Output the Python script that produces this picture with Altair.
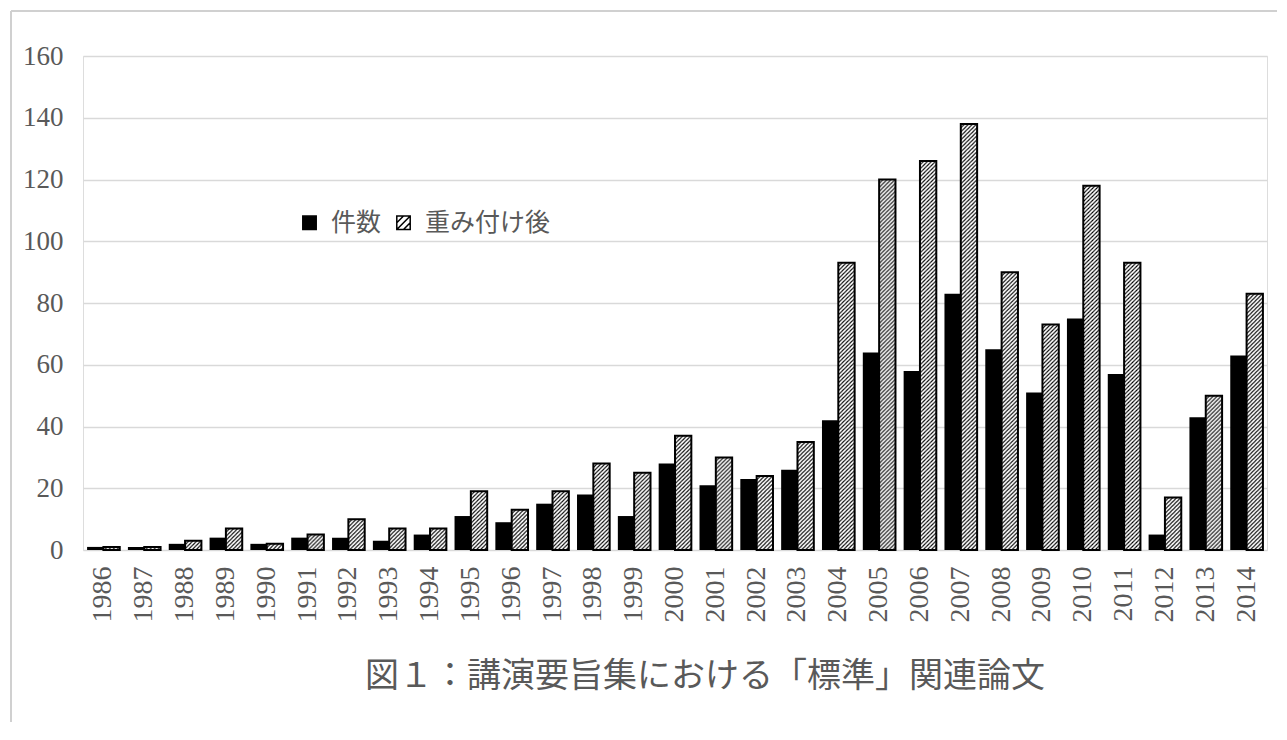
import urllib.parse
import altair as alt
import pandas as pd

# ---- data ----
years = [str(y) for y in range(1986, 2015)]
counts = [1, 1, 2, 4, 2, 4, 4, 3, 5, 11, 9, 15, 18, 11, 28, 21, 23, 26, 42,
          64, 58, 83, 65, 51, 75, 57, 5, 43, 63]
weighted = [1, 1, 3, 7, 2, 5, 10, 7, 7, 19, 13, 19, 28, 25, 37, 30, 24, 35, 93,
            120, 126, 138, 90, 73, 118, 93, 17, 50, 83]
series_names = ["件数", "重み付け後"]
y_ticks = [0, 20, 40, 60, 80, 100, 120, 140, 160]
title_text = "図１：講演要旨集における「標準」関連論文"

rows = []
for yr, c, w in zip(years, counts, weighted):
    rows.append({"year": yr, "series": series_names[0], "value": c})
    rows.append({"year": yr, "series": series_names[1], "value": w})
df = pd.DataFrame(rows)

W, H = 1184, 494
GRAY = "#595959"
SERIF = "Liberation Serif"
JP = "Noto Sans CJK JP"

# diagonal hatch pattern as an SVG image that tiles at fixed pixel size
hatch_svg = (
    "<svg xmlns='http://www.w3.org/2000/svg' width='100%' height='100%'>"
    "<defs><pattern id='p' patternUnits='userSpaceOnUse' width='4' height='4'>"
    "<rect width='4' height='4' fill='white'/>"
    "<path d='M-1,1 L1,-1 M0,4 L4,0 M3,5 L5,3' stroke='black' stroke-width='1.1'/>"
    "</pattern></defs>"
    "<rect width='100%' height='100%' fill='url(#p)'/></svg>"
)
hatch_uri = "data:image/svg+xml;charset=utf-8," + urllib.parse.quote(hatch_svg)

base = alt.Chart(df)

x_enc = alt.X(
    "year:O",
    sort=years,
    title=None,
    scale=alt.Scale(paddingInner=0.2, paddingOuter=0.1),
    axis=alt.Axis(labelAngle=-90, labelFont=SERIF, labelFontSize=28,
                  labelColor=GRAY, labelPadding=16, ticks=False, domain=False,
                  grid=False),
)
xoff = alt.XOffset("series:N", scale=alt.Scale(domain=series_names, paddingInner=0))
y_enc = alt.Y(
    "value:Q",
    title=None,
    scale=alt.Scale(domain=[0, 160], nice=False),
    axis=alt.Axis(values=y_ticks, labelFont=SERIF, labelFontSize=27,
                  labelColor=GRAY, labelPadding=20, ticks=False, domain=False,
                  grid=True, gridColor="#d9d9d9", gridWidth=1.5),
)

black_bars = base.transform_filter(
    alt.datum.series == series_names[0]
).mark_bar(color="black").encode(x=x_enc, xOffset=xoff, y=y_enc)

hatch_img = base.transform_filter(
    alt.datum.series == series_names[1]
).mark_image(url=hatch_uri, aspect=False).encode(
    x=x_enc, xOffset=xoff, y=y_enc, y2=alt.datum(0)
)

hatch_outline = base.transform_filter(
    alt.datum.series == series_names[1]
).mark_bar(fillOpacity=0, stroke="black", strokeWidth=2).encode(
    x=x_enc, xOffset=xoff, y=y_enc
)

hatch_symbol = "M-1,-1H1V1H-1Z M-1,0L0,-1 M-1,1L1,-1 M0,1L1,0"
leg = dict(title=None, orient="none", direction="horizontal",
           legendX=214, legendY=154,
           labelFont=JP, labelFontSize=25, labelColor=GRAY,
           symbolSize=180, symbolOpacity=1, symbolStrokeWidth=1.5,
           labelOffset=9, columnPadding=9)
legend_layer = base.mark_point(filled=True, opacity=0, stroke="black", strokeWidth=1.8).encode(
    x=x_enc, y=y_enc,
    fill=alt.Fill("series:N", scale=alt.Scale(domain=series_names, range=["black", "white"]),
                  legend=alt.Legend(**leg)),
    shape=alt.Shape("series:N", scale=alt.Scale(domain=series_names, range=["square", hatch_symbol]),
                    legend=alt.Legend(**leg)),
)

# chart title drawn as text below the axis
title_layer = alt.Chart(pd.DataFrame({"t": [title_text]})).mark_text(
    font=JP, fontSize=34, color=GRAY, align="center", baseline="middle"
).encode(text="t:N", x=alt.value(W / 2 + 30), y=alt.value(H + 127))

# outer frame (left and top edges of the chart border)
frame_left = alt.Chart(pd.DataFrame({"k": [0]})).mark_rule(color="#d0d0d0", strokeWidth=2).encode(
    x=alt.value(-72), y=alt.value(-45), y2=alt.value(H + 172)
)
frame_top = alt.Chart(pd.DataFrame({"k": [0]})).mark_rule(color="#d0d0d0", strokeWidth=2).encode(
    x=alt.value(-72), x2=alt.value(W + 10), y=alt.value(-45)
)

chart = alt.layer(
    frame_left, frame_top, black_bars, hatch_img, hatch_outline, legend_layer, title_layer
).properties(
    width=W,
    height=H,
    padding={"left": 2, "top": 2, "right": 0, "bottom": 0},
).configure_view(stroke=None).configure(background="white")

chart.save("out.html", embed_options={"renderer": "svg", "actions": False})
